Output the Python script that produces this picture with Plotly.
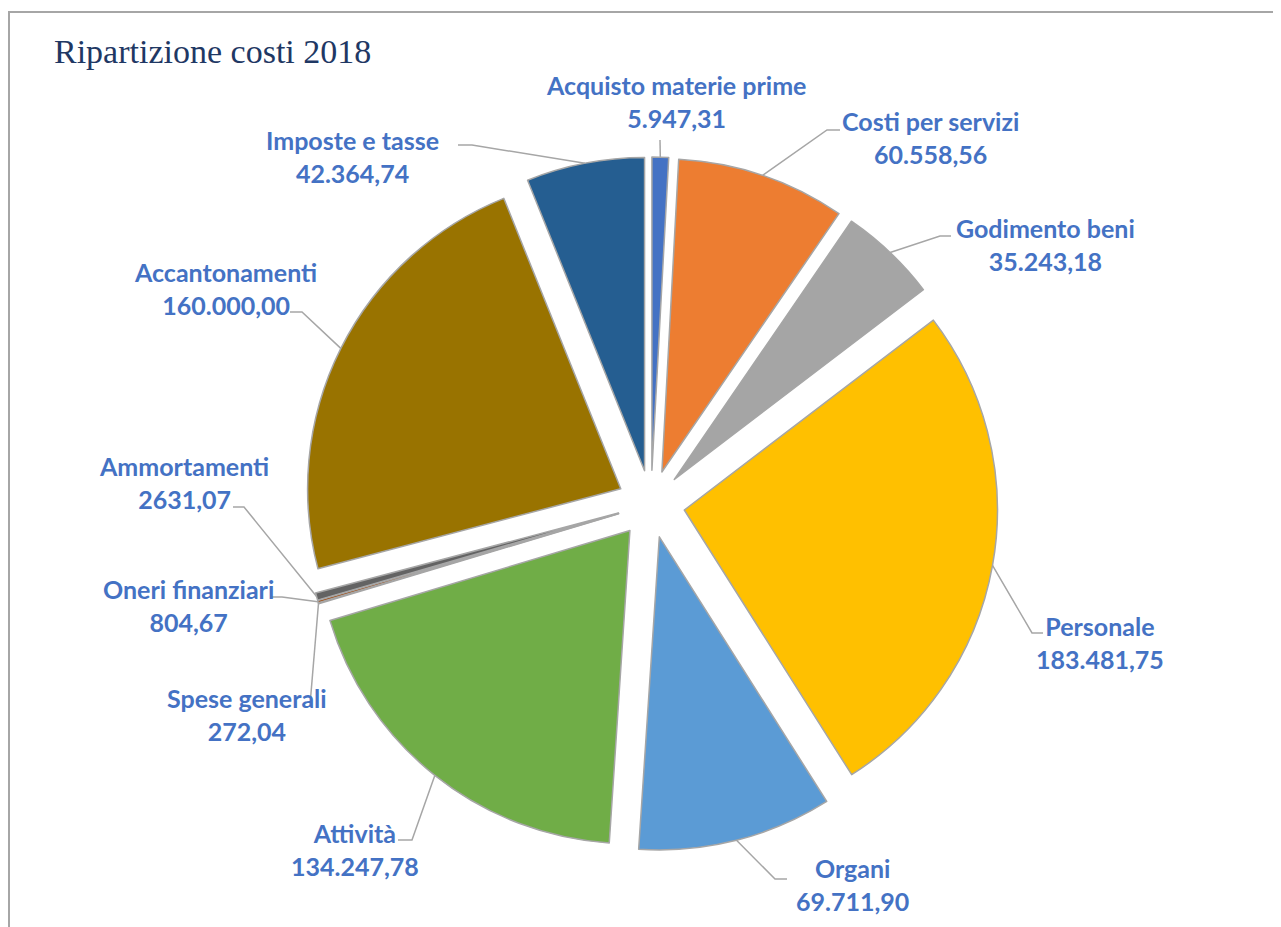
import math
import plotly.graph_objects as go

# ---------------- data ----------------
categories = ["Acquisto materie prime", "Costi per servizi", "Godimento beni", "Personale",
              "Organi", "Attività", "Spese generali", "Oneri finanziari", "Ammortamenti",
              "Accantonamenti", "Imposte e tasse"]
values = [5947.31, 60558.56, 35243.18, 183481.75, 69711.90, 134247.78,
          272.04, 804.67, 2631.07, 160000.00, 42364.74]
value_text = ["5.947,31", "60.558,56", "35.243,18", "183.481,75", "69.711,90", "134.247,78",
              "272,04", "804,67", "2631,07", "160.000,00", "42.364,74"]
title_text = "Ripartizione costi 2018"

# ---------------- style / layout ----------------
colors = ["#4472C4", "#ED7D31", "#A5A5A5", "#FFC000", "#5B9BD5", "#70AD47",
          "#264478", "#9E480E", "#636363", "#997300", "#255E91"]
W, H = 1281, 927
OFF = 8                    # page body margin (px)
CX, CY = 651, 504          # pie centre (page px)
R_TOT = 347                # radius + explosion (px)
PULL = 0.108
LABEL_COLOR = "#4472C4"
LEADER_COLOR = "#A6A6A6"

# label text centres and leader attach points (page px): (tx, ty, bx, by, stub)
label_pos = [
    (676, 101, 660, 140, 0),
    (930, 137, 840, 130, -13),
    (1045, 244, 951, 236, -11),
    (1100, 642, 1043, 633, -11),
    (852, 884, 787, 879, -12),
    (355, 849, 398, 840, 14),
    (247, 714, 310, 705, 0),
    (188, 605, 270, 597, 12),
    (184, 482, 233, 507, 11),
    (225, 288, 290, 312, 12),
    (352, 156, 458, 145, 14),
]

fig = go.Figure()
fig.add_trace(go.Pie(
    labels=categories, values=values, sort=False, direction="clockwise", rotation=0,
    pull=[PULL] * len(values),
    marker=dict(colors=colors, line=dict(color="#A6A6A6", width=1.5)),
    textinfo="none", hoverinfo="label+value", showlegend=False,
    domain=dict(x=[(CX - OFF - R_TOT) / W, (CX - OFF + R_TOT) / W],
                y=[(H + OFF - CY - R_TOT) / H, (H + OFF - CY + R_TOT) / H]),
))

# invisible pixel axes (page coordinates)
fig.add_trace(go.Scatter(x=[OFF, W + OFF], y=[OFF, H + OFF], mode="markers",
                         marker=dict(opacity=0), hoverinfo="skip", showlegend=False))

total = sum(values)
cum = 0.0
annotations = []
shapes = []
for i, v in enumerate(values):
    mid = (cum + v / 2) / total * 2 * math.pi
    cum += v
    ex = CX + R_TOT * math.sin(mid)
    ey = CY - R_TOT * math.cos(mid)
    tx, ty, bx, by, stub = label_pos[i]
    ax, ay = bx + stub, by
    path = f"M {bx},{by} L {ax},{ay} L {ex:.1f},{ey:.1f}"
    shapes.append(dict(type="path", path=path, xref="x", yref="y",
                       line=dict(color=LEADER_COLOR, width=1.5), layer="above"))
    annotations.append(dict(
        x=tx, y=ty, xref="x", yref="y", showarrow=False, align="center",
        xanchor="center", yanchor="middle",
        text=f"<b>{categories[i]}</b><br><b>{value_text[i]}</b>",
        font=dict(family="Lato", size=25, color=LABEL_COLOR),
    ))

# frame
shapes.append(dict(type="line", xref="x", yref="y", x0=8, y0=12, x1=W + OFF, y1=12,
                   line=dict(color="#A6A6A6", width=2)))
shapes.append(dict(type="line", xref="x", yref="y", x0=9, y0=12, x1=9, y1=H + OFF,
                   line=dict(color="#A6A6A6", width=2)))

annotations.append(dict(
    x=52, y=51, xref="x", yref="y", showarrow=False, xanchor="left", yanchor="middle",
    text=title_text, font=dict(family="Liberation Serif", size=34, color="#1F3864"),
))

fig.update_layout(
    width=W, height=H, margin=dict(l=0, r=0, t=0, b=0),
    paper_bgcolor="white", plot_bgcolor="white",
    xaxis=dict(range=[OFF, W + OFF], visible=False, fixedrange=True),
    yaxis=dict(range=[H + OFF, OFF], visible=False, fixedrange=True),
    shapes=shapes, annotations=annotations,
)
fig.write_html("out.html")
